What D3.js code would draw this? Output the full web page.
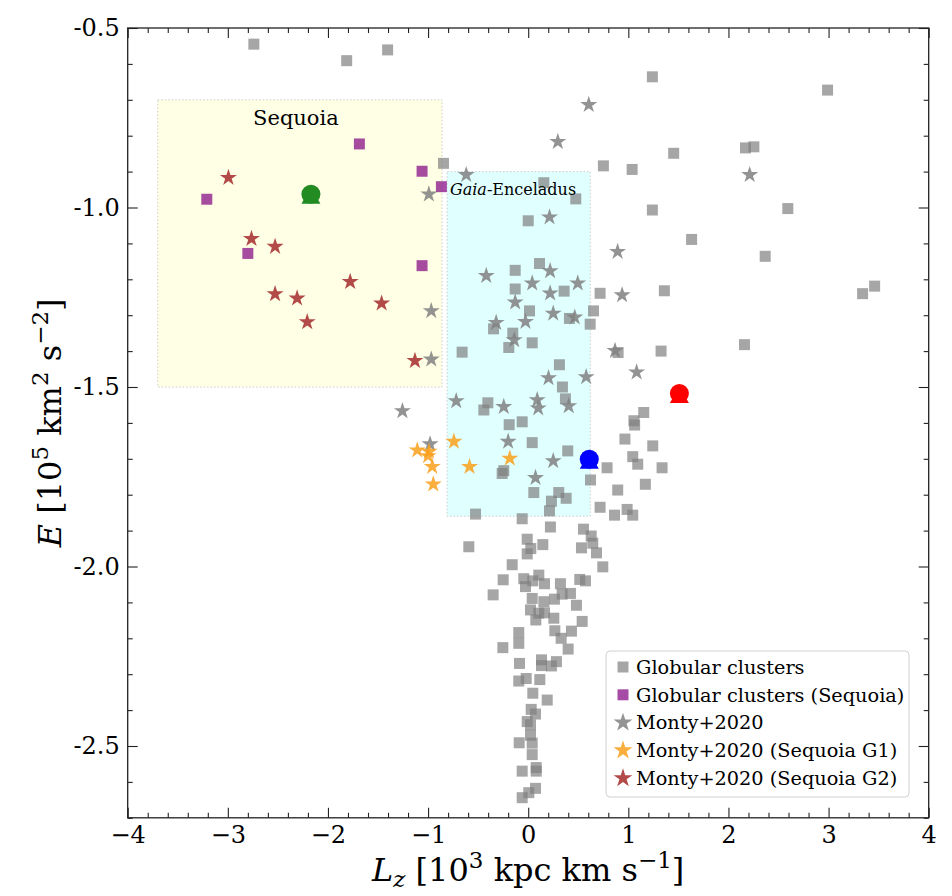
<!DOCTYPE html>
<html>
<head>
<meta charset="utf-8">
<script src="https://cdn.jsdelivr.net/npm/d3@7"></script>
<style>
  body { margin: 0; background: #fff; }
  svg { font-family: "DejaVu Serif", serif; }
</style>
</head>
<body>
<div id="root"></div>
<script>
// Globular clusters (grey squares)
const gcLz = [-2.74, -1.813, -1.404, -0.846, -0.66, -0.593, -0.526,
  1.24, 2.99, 1.453, 2.17, 2.254, 0.751, 1.038, 0.156, 0.475, 1.24, 2.593, 0.0, 1.632,
  2.367, -0.13, 0.113, -0.13, 0.359, 0.718, 1.36, 3.34, 3.46, 0.013, 0.652, 0.412,
  0.619, -0.346, -0.154, 0.04, -0.194, 0.898, 1.327, 2.16, 0.312, 0.342, -0.403,
  -0.443, 0.372, 1.154, -0.06, -0.19, 1.056,
  0.04, 0.395, -0.26, -0.244, 0.056, 0.305, 0.379, 0.232, 0.213, -0.06, 0.222, 0.622,
  0.788, 0.966, 1.063, 1.244, 1.044, 1.094, 1.337, 1.17, 0.894, 0.718, 0.862, 0.988,
  1.044, 0.552, 0.629, -0.01, 0.146, 0.026, -0.01, 0.532, 0.645, 0.682, 0.745, -0.16,
  -0.25, -0.35, -0.044, 0.106, 0.046, 0.163, -0.027, 0.322, 0.515, 0.572, 0.04, 0.156,
  0.262, 0.339, 0.422, 0.482, 0.023, 0.106, 0.163, 0.076, 0.256, 0.539, 0.266, 0.432,
  -0.094, -0.094, 0.329, -0.253, 0.399, -0.087, 0.133, 0.282, 0.133, 0.232, -0.094,
  -0.02, 0.116, 0.046, 0.19, 0.03, 0.073, -0.01, 0.023, 0.023, -0.09, 0.04, 0.04, 0.08,
  -0.06, 0.08, 0.073, 0.006, -0.06];
const gcE = [-0.545, -0.591, -0.561, -0.877, -1.403, -1.945, -1.854,
  -0.636, -0.673, -0.849, -0.834, -0.831, -0.884, -0.894, -0.931, -0.976, -1.007, -1.003, -1.037, -1.089,
  -1.136, -1.175, -1.156, -1.227, -1.233, -1.239, -1.232, -1.24, -1.219, -1.288, -1.288, -1.309,
  -1.325, -1.338, -1.35, -1.377, -1.39, -1.404, -1.4, -1.382, -1.438, -1.5, -1.544,
  -1.564, -1.533, -1.571, -1.597, -1.605, -1.594,
  -1.655, -1.678, -1.741, -1.733, -1.794, -1.794, -1.81, -1.818, -1.845, -1.867, -1.89, -1.759,
  -1.725, -1.645, -1.606, -1.664, -1.694, -1.715, -1.725, -1.771, -1.787, -1.835, -1.857, -1.841,
  -1.857, -1.896, -1.915, -1.924, -1.939, -1.95, -1.965, -1.948, -1.935, -1.962, -2.001, -1.995,
  -2.037, -2.079, -2.034, -2.024, -2.04, -2.048, -2.056, -2.048, -2.036, -2.04, -2.089, -2.098,
  -2.091, -2.077, -2.075, -2.108, -2.121, -2.13, -2.129, -2.149, -2.144, -2.153, -2.179, -2.18,
  -2.184, -2.214, -2.2, -2.226, -2.23, -2.27, -2.26, -2.265, -2.276, -2.277, -2.319,
  -2.312, -2.315, -2.353, -2.372, -2.398, -2.411, -2.432, -2.441, -2.47, -2.491, -2.492, -2.524, -2.56,
  -2.57, -2.57, -2.618, -2.63, -2.644];

// Sequoia globular clusters (purple squares)
const seqGcLz = [-1.686, -1.06, -0.867, -3.21, -2.8, -1.06];
const seqGcE = [-0.823, -0.899, -0.942, -0.977, -1.128, -1.162];

// Monty+2020 (grey stars)
const montyLz = [-0.992, -0.968, -0.968, -0.619, -1.256, -0.719, -0.98,
  0.605, 0.296, 2.212, 0.213, 0.893, -0.419, 0.219, 0.04, 0.495, 0.219, 0.938, -0.13,
  0.25, 0.465, -0.32, -0.027, -0.14, 0.867, 1.083, 0.203, 0.579, 0.09, 0.1, -0.244,
  0.405, -0.2, 0.25, 0.073];
const montyE = [-0.963, -1.288, -1.423, -0.909, -1.567, -1.539, -1.659,
  -0.714, -0.817, -0.909, -1.027, -1.123, -1.19, -1.177, -1.211, -1.211, -1.239, -1.244, -1.264,
  -1.295, -1.306, -1.321, -1.318, -1.369, -1.399, -1.459, -1.475, -1.472, -1.536, -1.559, -1.555,
  -1.553, -1.652, -1.706, -1.753];

// Monty+2020 Sequoia G1 (orange stars) and G2 (red stars)
const g1Lz = [-1.108, -0.99, -1.0, -0.958, -0.948, -0.742, -0.586, -0.184];
const g1E = [-1.676, -1.68, -1.692, -1.722, -1.771, -1.652, -1.722, -1.699];
const g2Lz = [-2.994, -2.764, -2.528, -1.778, -2.528, -2.308, -1.464, -2.207, -1.131];
const g2E = [-0.917, -1.087, -1.109, -1.207, -1.241, -1.253, -1.267, -1.319, -1.427];

// Mean positions (big circles)
const meanLz = [-2.17, 0.61, 1.51];
const meanE = [-0.963, -1.701, -1.518];

// Selection boxes: [Lz min, Lz max, E min, E max]
const sequoiaBox = [-3.7, -0.86, -1.5, -0.7];
const geBox = [-0.81, 0.62, -1.86, -0.9];

const xTicks = [-4, -3, -2, -1, 0, 1, 2, 3, 4];
const yTicks = [-2.5, -2.0, -1.5, -1.0, -0.5];

const width = 952;
const height = 896;
const margin = { left: 127.7, top: 28, right: 23.3, bottom: 78.2 };

const svg = d3.select("#root").append("svg")
  .attr("width", width).attr("height", height);

const x = d3.scaleLinear().domain([-4, 4]).range([margin.left, width - margin.right]);
const y = d3.scaleLinear().domain([-2.7, -0.5]).range([height - margin.bottom, margin.top]);

const zip = (a, b) => a.map((v, i) => [v, b[i]]);

// boxes
const boxes = [
  { b: sequoiaBox, fill: "#ffffe6" },
  { b: geBox, fill: "#e0ffff" }
];
svg.append("g").selectAll("rect").data(boxes).join("rect")
  .attr("x", d => x(d.b[0]))
  .attr("y", d => y(d.b[3]))
  .attr("width", d => x(d.b[1]) - x(d.b[0]))
  .attr("height", d => y(d.b[2]) - y(d.b[3]))
  .attr("fill", d => d.fill)
  .attr("stroke", "#cccccc")
  .attr("stroke-width", 1)
  .attr("stroke-dasharray", "1.5,2");

const squareSym = d3.symbol(d3.symbolSquare, 121);
const starSym = d3.symbol(d3.symbolStar, 90);

const drawPoints = (lz, e, sym, fill, opacity) => {
  svg.append("g").selectAll("path").data(zip(lz, e)).join("path")
    .attr("d", sym)
    .attr("transform", d => `translate(${x(d[0])},${y(d[1])})`)
    .attr("fill", fill)
    .attr("fill-opacity", opacity);
};

drawPoints(gcLz, gcE, squareSym, "#808080", 0.7);
drawPoints(seqGcLz, seqGcE, squareSym, "#800080", 0.7);
drawPoints(montyLz, montyE, starSym, "#808080", 0.85);
drawPoints(g1Lz, g1E, starSym, "#f9a01b", 0.85);
drawPoints(g2Lz, g2E, starSym, "#a52a2a", 0.85);

// region labels
svg.append("text")
  .attr("x", x(-2.32)).attr("y", y(-0.77))
  .attr("text-anchor", "middle")
  .attr("font-size", 21)
  .text("Sequoia");

const geLabel = svg.append("text")
  .attr("x", x(-0.782)).attr("y", y(-0.965))
  .attr("font-size", 16);
geLabel.append("tspan").attr("font-style", "italic").text("Gaia");
geLabel.append("tspan").text("-Enceladus");

// mean markers: circle with triangle base
const meanColors = ["#228b22", "#0000ff", "#ff0000"];
const means = zip(meanLz, meanE).map((d, i) => ({ p: d, c: meanColors[i] }));
const meanG = svg.append("g").selectAll("g").data(means).join("g")
  .attr("transform", d => `translate(${x(d.p[0])},${y(d.p[1])})`);
meanG.append("path")
  .attr("d", "M-9.5,9.5 L0,-7 L9.5,9.5 Z")
  .attr("fill", d => d.c);
meanG.append("circle")
  .attr("r", 9.5)
  .attr("fill", d => d.c);

// axes
const plotLeft = margin.left, plotRight = width - margin.right;
const plotTop = margin.top, plotBottom = height - margin.bottom;
const xMinor = d3.range(-4, 4.001, 0.2).map(v => +v.toFixed(1)).filter(v => !xTicks.includes(v));
const yMinor = d3.range(-2.7, -0.49, 0.1).map(v => +v.toFixed(1)).filter(v => !yTicks.includes(v));
const fmtX = d => (d < 0 ? "\u2212" + Math.abs(d) : String(d));
const fmtY = d => d.toFixed(1);

const styleAxis = g => {
  g.select(".domain").remove();
  g.selectAll(".tick line").attr("stroke", "#222").attr("stroke-width", 1.1);
  g.selectAll("text").attr("font-family", "DejaVu Serif").attr("fill", "#000");
};

svg.append("g").attr("transform", `translate(0,${plotBottom})`)
  .call(d3.axisBottom(x).tickValues(xTicks).tickSize(-10).tickPadding(8).tickFormat(fmtX))
  .attr("font-size", 24).call(styleAxis);
svg.append("g").attr("transform", `translate(0,${plotBottom})`)
  .call(d3.axisBottom(x).tickValues(xMinor).tickSize(-5).tickFormat(""))
  .call(styleAxis);
svg.append("g").attr("transform", `translate(0,${plotTop})`)
  .call(d3.axisTop(x).tickValues(xTicks).tickSize(-10).tickFormat(""))
  .call(styleAxis);
svg.append("g").attr("transform", `translate(0,${plotTop})`)
  .call(d3.axisTop(x).tickValues(xMinor).tickSize(-5).tickFormat(""))
  .call(styleAxis);

svg.append("g").attr("transform", `translate(${plotLeft},0)`)
  .call(d3.axisLeft(y).tickValues(yTicks).tickSize(-10).tickPadding(8).tickFormat(fmtY))
  .attr("font-size", 24).call(styleAxis);
svg.append("g").attr("transform", `translate(${plotLeft},0)`)
  .call(d3.axisLeft(y).tickValues(yMinor).tickSize(-5).tickFormat(""))
  .call(styleAxis);
svg.append("g").attr("transform", `translate(${plotRight},0)`)
  .call(d3.axisRight(y).tickValues(yTicks).tickSize(-10).tickFormat(""))
  .call(styleAxis);
svg.append("g").attr("transform", `translate(${plotRight},0)`)
  .call(d3.axisRight(y).tickValues(yMinor).tickSize(-5).tickFormat(""))
  .call(styleAxis);

svg.append("rect")
  .attr("x", plotLeft).attr("y", plotTop)
  .attr("width", plotRight - plotLeft).attr("height", plotBottom - plotTop)
  .attr("fill", "none").attr("stroke", "#222").attr("stroke-width", 1.3);

// axis labels
const xLabel = svg.append("text")
  .attr("x", (plotLeft + plotRight) / 2).attr("y", 881)
  .attr("text-anchor", "middle").attr("font-size", 32);
xLabel.append("tspan").attr("font-style", "italic").text("L");
xLabel.append("tspan").attr("font-style", "italic").attr("font-size", 23).attr("dy", 6).text("z");
xLabel.append("tspan").attr("dy", -6).text(" [10");
xLabel.append("tspan").attr("font-size", 23).attr("dy", -13).text("3");
xLabel.append("tspan").attr("dy", 13).text(" kpc km s");
xLabel.append("tspan").attr("font-size", 23).attr("dy", -13).text("\u22121");
xLabel.append("tspan").attr("dy", 13).text("]");

const yMid = (plotTop + plotBottom) / 2;
const yLabel = svg.append("text")
  .attr("transform", `translate(61,${yMid}) rotate(-90)`)
  .attr("text-anchor", "middle").attr("font-size", 32);
yLabel.append("tspan").attr("font-style", "italic").text("E");
yLabel.append("tspan").text(" [10");
yLabel.append("tspan").attr("font-size", 23).attr("dy", -13).text("5");
yLabel.append("tspan").attr("dy", 13).text(" km");
yLabel.append("tspan").attr("font-size", 23).attr("dy", -13).text("2");
yLabel.append("tspan").attr("dy", 13).text(" s");
yLabel.append("tspan").attr("font-size", 23).attr("dy", -13).text("\u22122");
yLabel.append("tspan").attr("dy", 13).text("]");

// legend
const legendItems = [
  { label: "Globular clusters", sym: d3.symbol(d3.symbolSquare, 121), fill: "#808080", op: 0.7 },
  { label: "Globular clusters (Sequoia)", sym: d3.symbol(d3.symbolSquare, 121), fill: "#800080", op: 0.7 },
  { label: "Monty+2020", sym: d3.symbol(d3.symbolStar, 110), fill: "#808080", op: 0.85 },
  { label: "Monty+2020 (Sequoia G1)", sym: d3.symbol(d3.symbolStar, 110), fill: "#f9a01b", op: 0.85 },
  { label: "Monty+2020 (Sequoia G2)", sym: d3.symbol(d3.symbolStar, 110), fill: "#a52a2a", op: 0.85 }
];
const legend = svg.append("g").attr("transform", "translate(606,651)");
legend.append("rect")
  .attr("width", 303).attr("height", 146).attr("rx", 4)
  .attr("fill", "#fff").attr("fill-opacity", 0.8)
  .attr("stroke", "#d0d0d0").attr("stroke-width", 1);
const rows = legend.selectAll("g").data(legendItems).join("g")
  .attr("transform", (d, i) => `translate(0,${16 + i * 27.8})`);
rows.append("path")
  .attr("d", d => d.sym())
  .attr("transform", "translate(17,0)")
  .attr("fill", d => d.fill).attr("fill-opacity", d => d.op);
rows.append("text")
  .attr("x", 30).attr("dy", "0.35em")
  .attr("font-size", 19.3)
  .text(d => d.label);
</script>
</body>
</html>
